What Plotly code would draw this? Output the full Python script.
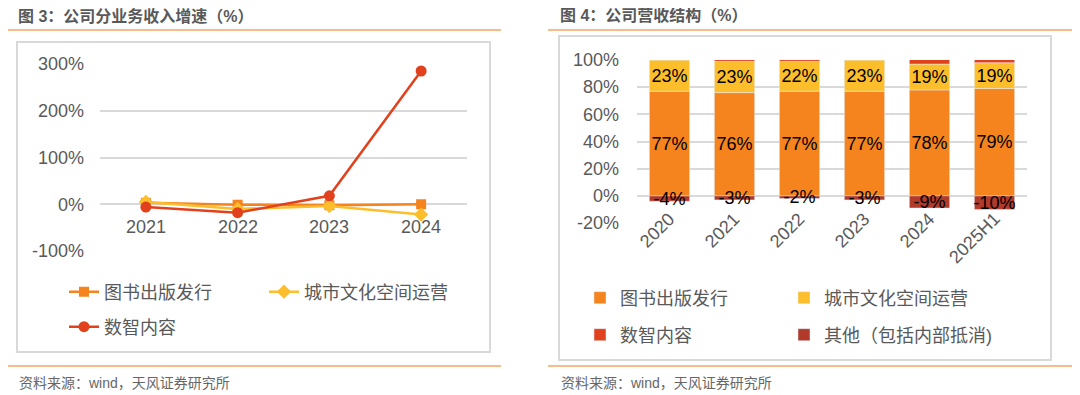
import plotly.graph_objects as go

# ---------------- data ----------------
growth_years = ["2021", "2022", "2023", "2024"]
growth_book = [3, -1, -2, 0]          # 图书出版发行
growth_city = [5, -10, -4, -22]       # 城市文化空间运营
growth_digital = [-6, -18, 18, 285]   # 数智内容

struct_years = ["2020", "2021", "2022", "2023", "2024", "2025H1"]
struct_book = [77, 76, 77, 77, 78, 79]
struct_city = [23, 23, 22, 23, 19, 19]
struct_digital = [4, 4, 3, 3, 12, 12]
struct_other = [-4, -3, -2, -3, -9, -10]

growth_ticks = [-100, 0, 100, 200, 300]
growth_ticktext = ["-100%", "0%", "100%", "200%", "300%"]
struct_ticks = [-20, 0, 20, 40, 60, 80, 100]
struct_ticktext = ["-20%", "0%", "20%", "40%", "60%", "80%", "100%"]

# ---------------- style ----------------
OFF = 8                      # page body margin of the browser
W, H = 1080 - OFF, 395 - OFF
C_BOOK = "#F5841F"
C_CITY = "#FDBE2C"
C_DIG = "#E2411D"
C_OTH = "#B23A2B"
GRID = "#D9D9D9"
TXT = "#595959"
FONT = "Liberation Sans, Arial, Noto Sans CJK SC, sans-serif"


def px_x(p):
    return (p - OFF) / W


def px_y(p):
    return 1 - (p - OFF) / H


fig = go.Figure()

# left: line chart
fig.add_trace(go.Scatter(
    x=growth_years, y=growth_book, name="图书出版发行", mode="lines+markers",
    line=dict(color=C_BOOK, width=2.5), marker=dict(symbol="square", size=10, color=C_BOOK),
    xaxis="x", yaxis="y", legend="legend"))
fig.add_trace(go.Scatter(
    x=growth_years, y=growth_city, name="城市文化空间运营", mode="lines+markers",
    line=dict(color=C_CITY, width=2.5), marker=dict(symbol="diamond", size=11, color=C_CITY),
    xaxis="x", yaxis="y", legend="legend2"))
fig.add_trace(go.Scatter(
    x=growth_years, y=growth_digital, name="数智内容", mode="lines+markers",
    line=dict(color=C_DIG, width=2.5), marker=dict(symbol="circle", size=11, color=C_DIG),
    xaxis="x", yaxis="y", legend="legend3"))

# right: stacked bars
bar_common = dict(xaxis="x2", yaxis="y2", width=0.62, textposition="inside",
                  insidetextanchor="middle", textangle=0, constraintext="none",
                  textfont=dict(size=18, color="#000000", family=FONT))
fig.add_trace(go.Bar(x=struct_years, y=struct_book, name="图书出版发行", marker_color=C_BOOK,
                     texttemplate="%{y:.0f}%", legend="legend4", **bar_common))
fig.add_trace(go.Bar(x=struct_years, y=struct_city, name="城市文化空间运营", marker_color=C_CITY,
                     texttemplate="%{y:.0f}%", legend="legend5", **bar_common))
fig.add_trace(go.Bar(x=struct_years, y=struct_digital, name="数智内容", marker_color=C_DIG,
                     texttemplate="", legend="legend6", **bar_common))
fig.add_trace(go.Bar(x=struct_years, y=struct_other, name="其他（包括内部抵消)", marker_color=C_OTH,
                     texttemplate="%{y:.0f}%", legend="legend7", **bar_common))

axis_font = dict(size=18, color=TXT, family=FONT)
leg_font = dict(size=18, color=TXT, family=FONT)


def leg(xp, yp):
    return dict(orientation="h", x=px_x(xp), y=px_y(yp), xanchor="left", yanchor="middle",
                font=leg_font, bgcolor="rgba(0,0,0,0)")


fig.update_layout(
    width=W, height=H, margin=dict(l=0, r=0, t=0, b=0, autoexpand=False),
    paper_bgcolor="white", plot_bgcolor="white",
    barmode="relative",
    font=dict(family=FONT, color=TXT),
    xaxis=dict(domain=[px_x(100), px_x(467)], range=[-0.5, 3.5], type="category",
               showgrid=False, showticklabels=False, zeroline=False, showline=False),
    yaxis=dict(domain=[px_y(251), px_y(64)], range=[-100, 300], tickmode="array",
               tickvals=growth_ticks, ticktext=growth_ticktext, ticklabelstandoff=15,
               showgrid=True, gridcolor=GRID, gridwidth=1.5, automargin=False,
               zeroline=False, tickfont=axis_font, ticks="", showline=False),
    xaxis2=dict(domain=[px_x(637), px_x(1027)], range=[-0.5, 5.5], type="category",
                showgrid=False, showticklabels=False, zeroline=False, showline=False),
    yaxis2=dict(domain=[px_y(223), px_y(60)], range=[-20, 100], tickmode="array",
                tickvals=struct_ticks, ticktext=struct_ticktext, ticklabelstandoff=17,
                showgrid=True, gridcolor=GRID, gridwidth=1.5, automargin=False,
                zeroline=False, tickfont=axis_font, ticks="", showline=False, anchor="x2"),
    legend=leg(64, 292),
    legend2=leg(264, 292),
    legend3=leg(64, 327),
    legend4=leg(580, 298),
    legend5=leg(784, 298),
    legend6=leg(580, 335),
    legend7=leg(784, 335),
    showlegend=True,
)

# category labels next to the zero line
for i, yr in enumerate(growth_years):
    fig.add_annotation(x=i, y=0, xref="x", yref="y", text=yr, showarrow=False,
                       yanchor="top", yshift=-11, font=axis_font)
for i, yr in enumerate(struct_years):
    fig.add_annotation(x=i, y=0, xref="x2", yref="y2", text=yr, showarrow=False,
                       textangle=-45, xanchor="right", yanchor="top", xshift=12, yshift=-10,
                       font=axis_font)

# titles and sources
title_font = dict(size=16, color=TXT, family=FONT)
src_font = dict(size=14, color="#666666", family=FONT)
fig.add_annotation(x=px_x(17), y=px_y(16), xref="paper", yref="paper", xanchor="left",
                   yanchor="middle", text="<b>图 3：公司分业务收入增速（%）</b>", showarrow=False,
                   font=title_font, borderpad=0)
fig.add_annotation(x=px_x(559), y=px_y(16), xref="paper", yref="paper", xanchor="left",
                   yanchor="middle", text="<b>图 4：公司营收结构（%）</b>", showarrow=False,
                   font=title_font, borderpad=0)
fig.add_annotation(x=px_x(17), y=px_y(383), xref="paper", yref="paper", xanchor="left",
                   yanchor="middle", text="资料来源：wind，天风证券研究所", showarrow=False,
                   font=src_font)
fig.add_annotation(x=px_x(559), y=px_y(383), xref="paper", yref="paper", xanchor="left",
                   yanchor="middle", text="资料来源：wind，天风证券研究所", showarrow=False,
                   font=src_font)

# decorative lines and boxes
LINE_OR = "#F7A560"
for x0, x1 in [(8, 501), (548, 1080)]:
    fig.add_shape(type="line", xref="paper", yref="paper", x0=px_x(x0), x1=px_x(x1),
                  y0=px_y(30), y1=px_y(30), line=dict(color=LINE_OR, width=1.5))
    fig.add_shape(type="line", xref="paper", yref="paper", x0=px_x(x0), x1=px_x(x1),
                  y0=px_y(366), y1=px_y(366), line=dict(color=LINE_OR, width=1.5))
for x0, y0, x1, y1 in [(17, 42, 490, 352), (559, 36, 1051, 360)]:
    fig.add_shape(type="rect", xref="paper", yref="paper", x0=px_x(x0), x1=px_x(x1),
                  y0=px_y(y1), y1=px_y(y0), line=dict(color="#D9D9D9", width=2),
                  fillcolor="rgba(0,0,0,0)", layer="below")

fig.write_html("out.html")
